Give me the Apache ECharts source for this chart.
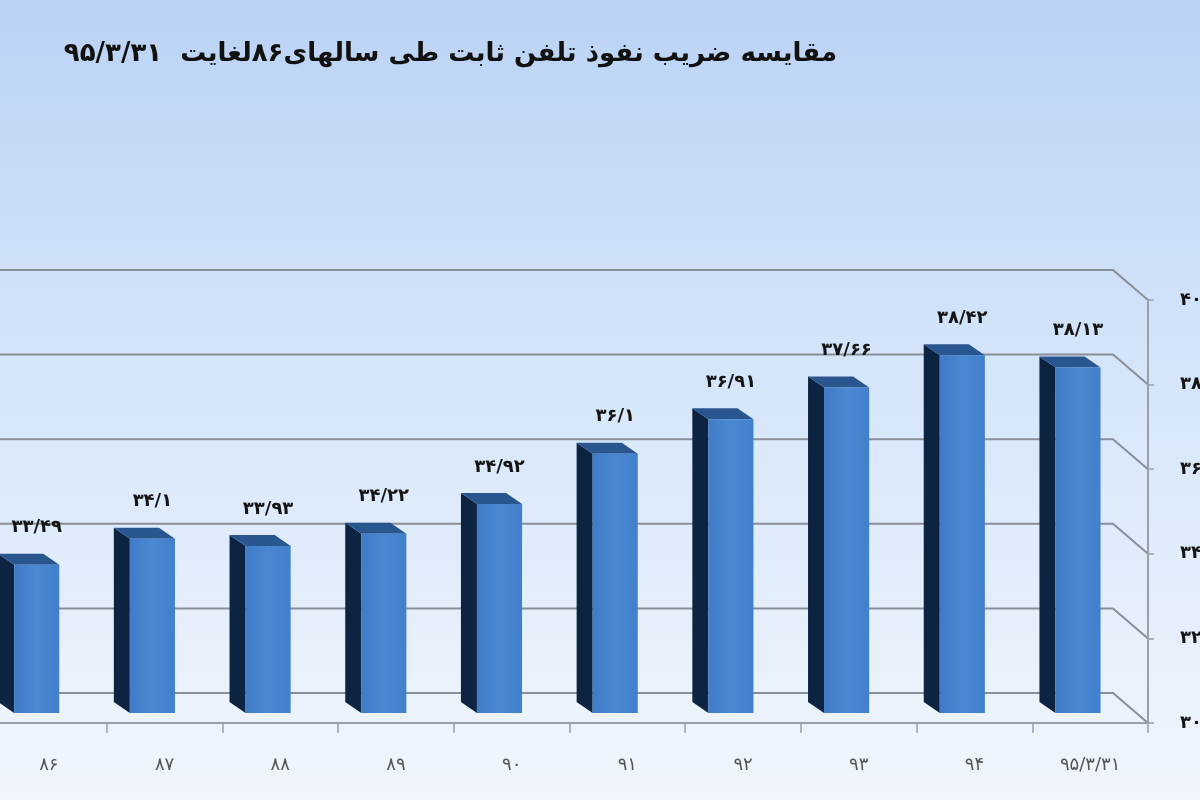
<!DOCTYPE html>
<html lang="fa">
<head>
    <meta charset="UTF-8">
    <title>ضریب نفوذ تلفن ثابت</title>
    <style>
        *{ padding:0; margin:0; }
        html, body{ height:100%; width:100%; }
        #main{ width:1200px; height:800px; }
    </style>
    <script src="https://cdn.jsdelivr.net/npm/echarts@6/dist/echarts.min.js"></script>
</head>
<body>
<div id="main"></div>
<script>
    // data
    var years = ['۸۶', '۸۷', '۸۸', '۸۹', '۹۰', '۹۱', '۹۲', '۹۳', '۹۴', '۹۵/۳/۳۱'];
    var rates = [33.49, 34.1, 33.93, 34.22, 34.92, 36.1, 36.91, 37.66, 38.42, 38.13];
    var ticks = [30, 32, 34, 36, 38, 40];

    var FONT = 'DejaVu Sans';
    var DEPTH = [-16, -11];

    function fa(s) {
        return String(s).replace(/\d/g, function (d) { return '۰۱۲۳۴۵۶۷۸۹'[d]; });
    }

    // back wall lines + diagonal to the front axis
    function renderWall(params, api) {
        var cs = params.coordSys;
        var p = api.coord([0, api.value(0)]);
        var y = p[1];
        var right = cs.x + cs.width;
        return {
            type: 'polyline',
            shape: { points: [[0, y - 30], [right - 35, y - 30], [right, y]] },
            style: { stroke: '#898f98', lineWidth: 2, fill: null }
        };
    }

    function renderBar(params, api) {
        var idx = api.value(0), v = api.value(1);
        var top = api.coord([idx, v]);
        var base = api.coord([idx, 30]);
        var bw = api.size([1, 0])[0];
        var x0 = top[0] - 0.30 * bw, x1 = top[0] + 0.09 * bw;
        var y0 = top[1], y1 = base[1];
        var dx = DEPTH[0], dy = DEPTH[1];
        return {
            type: 'group',
            children: [
                {
                    type: 'polygon',
                    shape: { points: [[x0, y0], [x0, y1], [x0 + dx, y1 + dy], [x0 + dx, y0 + dy]] },
                    style: { fill: '#0d2342' }
                },
                {
                    type: 'polygon',
                    shape: { points: [[x0, y0], [x1, y0], [x1 + dx, y0 + dy], [x0 + dx, y0 + dy]] },
                    style: { fill: '#2a5690' }
                },
                {
                    type: 'rect',
                    shape: { x: x0, y: y0, width: x1 - x0, height: y1 - y0 },
                    style: {
                        fill: new echarts.graphic.LinearGradient(0, 0, 1, 0, [
                            { offset: 0, color: '#3f7bc6' },
                            { offset: 0.5, color: '#4b88d2' },
                            { offset: 1, color: '#4180cc' }
                        ])
                    }
                },
                {
                    type: 'text',
                    x: (x0 + x1) / 2,
                    y: y0 - 37,
                    style: {
                        text: fa(String(v).replace('.', '/')),
                        font: 'bold 18px "' + FONT + '"',
                        fill: '#151515',
                        align: 'center',
                        verticalAlign: 'middle'
                    }
                }
            ]
        };
    }

    var myChart = echarts.init(document.getElementById('main'));

    var option = {
        backgroundColor: new echarts.graphic.LinearGradient(0, 0, 0, 1, [
            { offset: 0, color: '#bad2f4' },
            { offset: 0.45, color: '#d4e5fa' },
            { offset: 1, color: '#f1f6fc' }
        ]),
        animation: false,
        title: {
            text: 'مقایسه ضریب نفوذ تلفن ثابت طی سالهای۸۶لغایت  ۹۵/۳/۳۱',
            right: 358,
            top: 36,
            textStyle: {
                fontFamily: FONT,
                fontWeight: 'bold',
                fontSize: 26,
                color: '#111'
            }
        },
        grid: [
            // front plane: axes and labels
            { left: -9, right: 52, top: 300, bottom: 77, containLabel: false, outerBoundsMode: 'none' },
            // bar plane
            { left: -9, right: 52, top: 288, bottom: 87, containLabel: false, outerBoundsMode: 'none' }
        ],
        xAxis: [
            {
                type: 'category',
                gridIndex: 0,
                data: years,
                axisLine: { lineStyle: { color: '#9aa0a8', width: 2 } },
                axisTick: { show: true, length: 10, lineStyle: { color: '#9aa0a8', width: 1.5 } },
                axisLabel: {
                    margin: 33,
                    fontFamily: FONT,
                    fontSize: 18,
                    color: '#555',
                    interval: 0
                },
                splitLine: { show: false }
            },
            {
                type: 'category',
                gridIndex: 1,
                data: years,
                show: false
            }
        ],
        yAxis: [
            {
                type: 'value',
                gridIndex: 0,
                position: 'right',
                min: 30,
                max: 40,
                interval: 2,
                axisLine: { show: true, lineStyle: { color: '#9aa0a8', width: 2 } },
                axisTick: { show: true, length: 6, lineStyle: { color: '#9aa0a8', width: 1.5 } },
                axisLabel: {
                    margin: 32,
                    fontFamily: FONT,
                    fontWeight: 'bold',
                    fontSize: 18,
                    color: '#151515',
                    formatter: function (v) { return fa(v); }
                },
                splitLine: { show: false }
            },
            {
                type: 'value',
                gridIndex: 1,
                min: 30,
                max: 40,
                interval: 2,
                show: false
            }
        ],
        series: [
            {
                type: 'custom',
                xAxisIndex: 0,
                yAxisIndex: 0,
                renderItem: renderWall,
                encode: { y: 0 },
                data: ticks.map(function (t) { return [t]; }),
                silent: true,
                z: 0
            },
            {
                type: 'custom',
                xAxisIndex: 1,
                yAxisIndex: 1,
                renderItem: renderBar,
                clip: false,
                encode: { x: 0, y: 1 },
                data: rates.map(function (r, i) { return [i, r]; }),
                z: 10
            }
        ]
    };

    myChart.setOption(option);
</script>
</body>
</html>
